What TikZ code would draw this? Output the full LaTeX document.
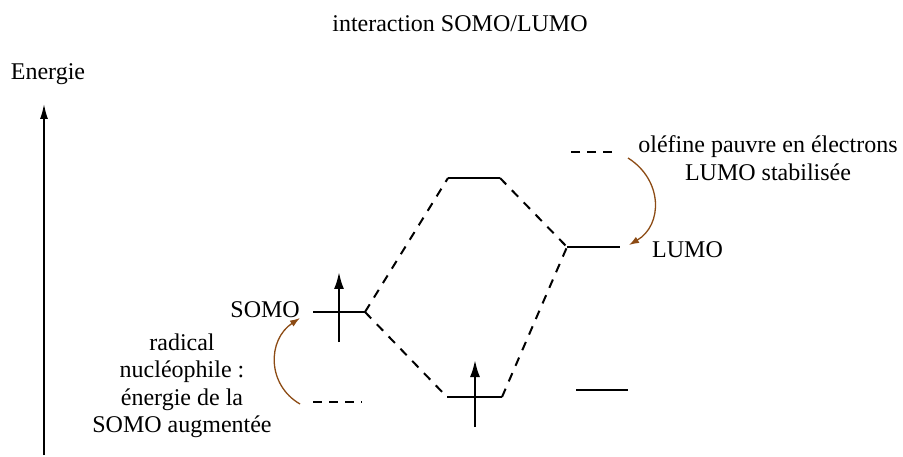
\documentclass[tikz,border=0pt]{standalone}
\usepackage{fontspec}
\setmainfont{Liberation Serif}
\usetikzlibrary{arrows.meta}
\definecolor{shiftbrown}{RGB}{140,75,20}
\begin{document}
\begin{tikzpicture}[x=1pt,y=-1pt,
  orb/.style={line width=2pt},
  orbdash/.style={line width=2pt,dash pattern=on 9pt off 7pt},
  link/.style={line width=2pt,dash pattern=on 9pt off 8pt},
  spin/.style={line width=2.2pt,-{Latex[length=17pt,width=10pt]}},
  axis/.style={line width=1.5pt,-{Latex[length=15pt,width=8pt]}},
  eshift/.style={draw=shiftbrown,line width=1.3pt,-{Latex[length=10pt,width=7pt]}},
  lbl/.style={font=\fontsize{24}{27.5}\selectfont,inner sep=0pt}]
\useasboundingbox (0,0) rectangle (903,457);
\coordinate (axB) at (44,455);
\coordinate (axT) at (44,104);
\coordinate (somoL) at (313,312);
\coordinate (somoR) at (365,312);
\coordinate (radL) at (313,402);
\coordinate (radR) at (362,402);
\coordinate (hiL) at (448,178);
\coordinate (hiR) at (500,178);
\coordinate (loL) at (447,397);
\coordinate (loR) at (502,397);
\coordinate (lumoL) at (567,247);
\coordinate (lumoR) at (620,247);
\coordinate (olefL) at (567,152);
\coordinate (olefR) at (612,152);
\coordinate (otherL) at (576,390);
\coordinate (otherR) at (628,390);
\coordinate (s1b) at (339,342);
\coordinate (s1t) at (339,272);
\coordinate (s2b) at (475,427);
\coordinate (s2t) at (475,360);
\coordinate (r1a) at (628,158);
\coordinate (r1b) at (629,245);
\coordinate (r2a) at (300,404);
\coordinate (r2b) at (300,318);
\node[lbl] (title) at (460,24) {interaction SOMO/LUMO};
\node[lbl] (energie) at (48,74) {Energie};
\node[lbl,anchor=east] (somo) at (300,310) {SOMO};
\node[lbl,anchor=west] (lumo) at (652,250) {LUMO};
\node[lbl,align=center] (olef) at (768,158) {oléfine pauvre en électrons\\LUMO stabilisée};
\node[lbl,align=center] (radical) at (182,386) {radical\\nucléophile :\\énergie de la\\SOMO augmentée};
\draw[axis] (axB) -- (axT);
\draw[orb] (somoL) -- (somoR);
\draw[orbdash] (radL) -- (radR);
\draw[orb] (hiL) -- (hiR);
\draw[orb] (loL) -- (loR);
\draw[orb] (lumoL) -- (lumoR);
\draw[orbdash] (olefR) -- (olefL);
\draw[orb] (otherL) -- (otherR);
\draw[link] (somoR) -- (hiL);
\draw[link] (somoR) -- (loL);
\draw[link] (hiR) -- (lumoL);
\draw[link] (loR) -- (lumoL);
\draw[spin] (s1b) -- (s1t);
\draw[spin] (s2b) -- (s2t);
\draw[eshift] (r1a) .. controls (663,180) and (663,225) .. (r1b);
\draw[eshift] (r2a) .. controls (267,385) and (267,340) .. (r2b);
\end{tikzpicture}
\end{document}
